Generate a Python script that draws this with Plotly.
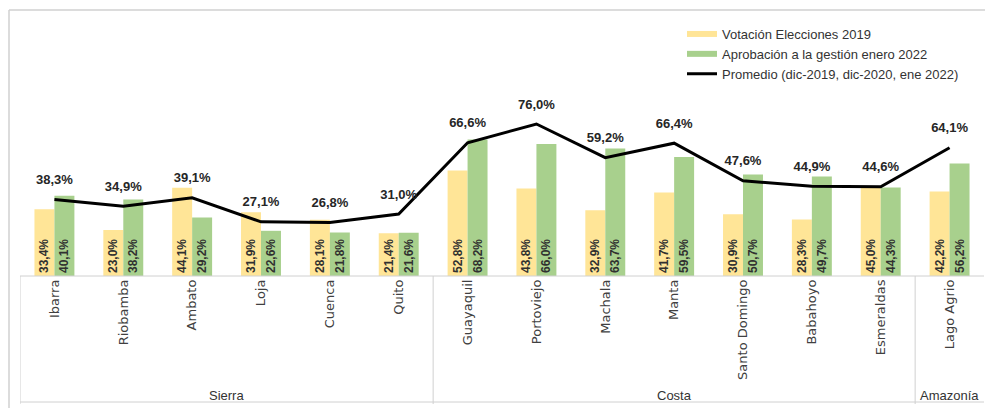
import plotly.graph_objects as go

cities = ["Ibarra", "Riobamba", "Ambato", "Loja", "Cuenca", "Quito",
          "Guayaquil", "Portoviejo", "Machala", "Manta", "Santo Domingo",
          "Babahoyo", "Esmeraldas", "Lago Agrio"]
votacion_2019 = [33.4, 23.0, 44.1, 31.9, 28.1, 21.4, 52.8, 43.8, 32.9, 41.7, 30.9, 28.3, 45.0, 42.2]
aprobacion_2022 = [40.1, 38.2, 29.2, 22.6, 21.8, 21.6, 68.2, 66.0, 63.7, 59.5, 50.7, 49.7, 44.3, 56.2]
promedio = [38.3, 34.9, 39.1, 27.1, 26.8, 31.0, 66.6, 76.0, 59.2, 66.4, 47.6, 44.9, 44.6, 64.1]
regions = ["Sierra", "Costa", "Amazonía"]
region_first = [0, 6, 13]
region_last = [5, 12, 13]

YELLOW = "#FFE597"
GREEN = "#A8D08D"
BORDER = "#D0D0D0"

W, H = 985, 408
ML, MR, MT, MB = 20, 1, 12, 132
PH = H - MT - MB

def py(pix):
    return 1 - (pix - MT) / PH

def px(pix):
    return (pix - ML) / (W - ML - MR)

fig = go.Figure()

bar_font = dict(family="Liberation Sans, Arial, sans-serif", size=12, color="#303030")

fig.add_trace(go.Bar(
    x=cities, y=votacion_2019, name="Votación Elecciones 2019",
    marker=dict(color=YELLOW, line=dict(width=0)),
    texttemplate="<b>%{y:.1f}%</b>", textposition="inside", insidetextanchor="start",
    textangle=-90, textfont=bar_font, constraintext="none", showlegend=False,
    hoverinfo="skip",
))
fig.add_trace(go.Bar(
    x=cities, y=aprobacion_2022, name="Aprobación a la gestión enero 2022",
    marker=dict(color=GREEN, line=dict(width=0)),
    texttemplate="<b>%{y:.1f}%</b>", textposition="inside", insidetextanchor="start",
    textangle=-90, textfont=bar_font, constraintext="none", showlegend=False,
    hoverinfo="skip",
))

# legend swatches
fig.add_trace(go.Scatter(x=[None], y=[None], mode="lines", name="Votación Elecciones 2019",
                         line=dict(color=YELLOW, width=6)))
fig.add_trace(go.Scatter(x=[None], y=[None], mode="lines", name="Aprobación a la gestión enero 2022",
                         line=dict(color=GREEN, width=6)))

fig.add_trace(go.Scatter(
    x=cities, y=promedio, name="Promedio (dic-2019, dic-2020, ene 2022)",
    mode="lines+markers+text",
    line=dict(color="#000000", width=3),
    marker=dict(size=18, color="rgba(0,0,0,0)"),
    texttemplate="<b>%{y:.1f}%</b>", textposition="top center",
    textfont=dict(family="Liberation Sans, Arial, sans-serif", size=13, color="#262626"),
))

shapes = []
# outer frame (left & top)
shapes.append(dict(type="line", xref="paper", yref="paper", x0=px(9), x1=px(9), y0=py(10), y1=py(410),
                   line=dict(color=BORDER, width=1.5)))
shapes.append(dict(type="line", xref="paper", yref="paper", x0=px(9), x1=1.02, y0=py(10), y1=py(10),
                   line=dict(color=BORDER, width=1.5)))
# category table
shapes.append(dict(type="line", xref="paper", yref="paper", x0=0, x1=1, y0=0, y1=0,
                   line=dict(color=BORDER, width=1)))
shapes.append(dict(type="line", xref="paper", yref="paper", x0=0, x1=1, y0=py(402), y1=py(402),
                   line=dict(color=BORDER, width=1)))
for s in [-0.5] + [r + 0.5 for r in region_last[:-1]]:
    shapes.append(dict(type="line", xref="x", yref="paper", x0=s, x1=s, y0=0, y1=py(404),
                       line=dict(color=BORDER, width=1)))

annotations = []
for name, a, b in zip(regions, region_first, region_last):
    annotations.append(dict(x=(a + b) / 2, xref="x", y=py(395), yref="paper", text=name,
                            showarrow=False, xanchor="center", yanchor="middle",
                            font=dict(family="Liberation Sans Narrow, Liberation Sans, Arial", size=13,
                                      color="#333333")))

fig.update_layout(
    width=W, height=H,
    margin=dict(l=ML, r=MR, t=MT, b=MB),
    paper_bgcolor="white", plot_bgcolor="white",
    separators=",.",
    barmode="group", bargap=0.42, bargroupgap=0,
    shapes=shapes, annotations=annotations,
    legend=dict(x=px(682), y=py(19), xanchor="left", yanchor="top",
                font=dict(family="Liberation Sans Narrow, Liberation Sans, Arial", size=13, color="#333333"),
                bgcolor="rgba(0,0,0,0)", tracegroupgap=0, itemwidth=30),
    xaxis=dict(type="category", tickangle=-90, showline=False, showgrid=False, ticks="",
               tickfont=dict(family="DejaVu Sans, sans-serif", size=13, color="#404040"),
               range=[-0.5, 13.5], fixedrange=True),
    yaxis=dict(range=[0, 132], visible=False, showgrid=False, zeroline=False, fixedrange=True),
    showlegend=True,
)

fig.write_html("out.html", config={"displayModeBar": False},
               post_script="document.body.style.margin='0';document.body.style.overflow='hidden';")
